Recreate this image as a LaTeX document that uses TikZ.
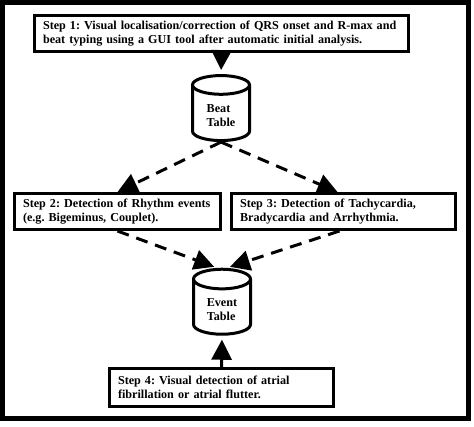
\documentclass[tikz,border=0pt]{standalone}
\usepackage{fontspec}
\setmainfont{Liberation Serif}
\usetikzlibrary{shapes.geometric, arrows.meta, positioning}
\frenchspacing

\begin{document}
\begin{tikzpicture}[x=0.75pt, y=-0.75pt,
    stepbox/.style={draw, line width=2.25pt, minimum height=27pt, inner xsep=6.4pt,
                    align=left, font=\bfseries\fontsize{9.1}{10.5}\selectfont},
    dbtable/.style={draw, cylinder, shape border rotate=90, aspect=0.5, line width=2.25pt,
                    minimum width=42.75pt, minimum height=48.75pt,
                    align=left, font=\bfseries\fontsize{9.1}{10.5}\selectfont},
    solidarrow/.style={line width=2.25pt, -{Triangle[length=15pt, width=15pt]}},
    dasharrow/.style={solidarrow, dash pattern=on 9pt off 6pt}]
    \useasboundingbox (0,0) rectangle (474,426);
    % outer frame
    \draw[line width=3.75pt] (2.5,2.5) rectangle (468.5,418.5);

    % steps and tables
    \node[stepbox, text width=267.7pt] (step1) at (221.5,33.5)
        {Step 1: Visual localisation/correction of QRS onset and R-max and\\
         beat typing using a GUI tool after automatic initial analysis.};
    \node[dbtable] (beat) at (221,116) {Beat\\Table};
    \node[stepbox, text width=141.7pt] (step2) at (117.5,211.5)
        {Step 2: Detection of Rhythm events\\(e.g. Bigeminus, Couplet).};
    \node[stepbox, text width=155.2pt] (step3) at (343.5,211.5)
        {Step 3: Detection of Tachycardia,\\Bradycardia and Arrhythmia.};
    \node[dbtable] (event) at (222,310) {Event\\Table};
    \node[stepbox, text width=155.2pt, minimum height=28.5pt] (step4) at (221.5,387.5)
        {Step 4: Visual detection of atrial\\fibrillation or atrial flutter.};

    % connectors
    \draw[solidarrow, shorten >=3pt] (step1.south) -- (beat.north);
    \draw[dasharrow] (beat.south) -- (step2.north);
    \draw[dasharrow] (beat.south) -- ([xshift=-4.5pt]step3.north);
    \draw[dasharrow, shorten >=2pt] (step2.south) -- ([xshift=-4pt]event.north);
    \draw[dasharrow, shorten >=2pt] ([xshift=-3pt]step3.south) -- ([xshift=4pt]event.north);
    \draw[solidarrow, shorten >=3pt] (step4.north) -- (event.south);
\end{tikzpicture}
\end{document}
